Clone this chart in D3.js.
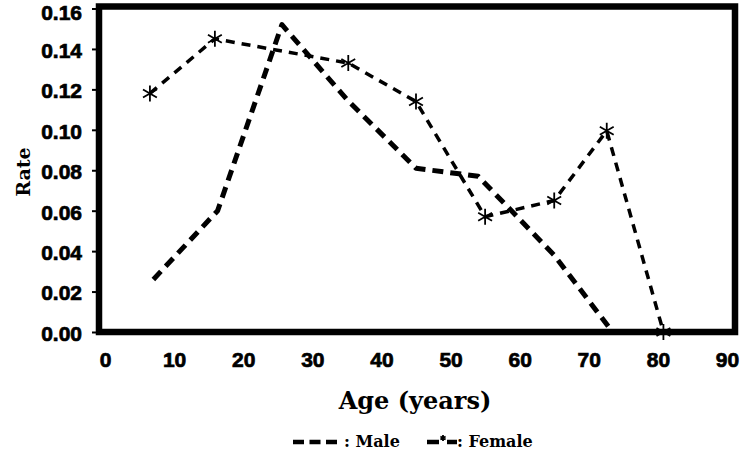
<!DOCTYPE html>
<html><head><meta charset="utf-8">
<script src="https://cdn.jsdelivr.net/npm/d3@7"></script>
<style>
body{margin:0;background:#fff;}
svg{display:block;}
</style></head>
<body><svg id="chart" width="740" height="452"></svg>
<script>
const xTicks = [0,10,20,30,40,50,60,70,80,90];
const yTicks = [0,0.02,0.04,0.06,0.08,0.10,0.12,0.14,0.16];
const maleAges = [7,16.3,25.6,35,45,54,65,73];
const maleRates = [0.026,0.060,0.152,0.115,0.081,0.077,0.038,0.002];
const femaleAges = [6.5,15.9,35.2,45,55,65,72.6,80.8];
const femaleRates = [0.118,0.145,0.133,0.114,0.057,0.065,0.0995,0.0];
const seriesNames = ["Male","Female"];

const svg = d3.select("#chart");
const x = d3.scaleLinear().domain([0,90]).range([105,727]);
const y = d3.scaleLinear().domain([0,0.16]).range([332,8.5]);

// frame
svg.append("rect").attr("x",99).attr("y",6.5).attr("width",636).attr("height",325.5)
  .attr("fill","none").attr("stroke","#000").attr("stroke-width",6.5);

const tickFont = "'Liberation Sans', Arial, sans-serif";
// y axis
const ya = svg.append("g").attr("transform","translate(99,0)")
  .call(d3.axisLeft(y).tickValues(yTicks).tickFormat(d3.format(".2f")).tickSize(7).tickPadding(10));
ya.select(".domain").remove();
ya.selectAll(".tick line").attr("stroke","#000").attr("stroke-width",2);
ya.selectAll(".tick text").attr("font-family",tickFont).attr("dy","0.4em")
  .attr("font-weight","bold").attr("font-size","21px").attr("fill","#000")
  .attr("stroke","#000").attr("stroke-width",0.7)
  .attr("y", d => d === 0.16 ? 3 : 0);

// x axis
const xa = svg.append("g").attr("transform","translate(0,332)")
  .call(d3.axisBottom(x).tickValues(xTicks).tickSize(0).tickPadding(20));
xa.select(".domain").remove();
xa.selectAll(".tick text").attr("font-family",tickFont)
  .attr("font-weight","bold").attr("font-size","21px").attr("fill","#000")
  .attr("stroke","#000").attr("stroke-width",0.7);

const serif = "'DejaVu Serif', 'Liberation Serif', serif";
// axis titles
svg.append("text").attr("transform","translate(23,172) rotate(-90)")
  .attr("text-anchor","middle").attr("dy","0.35em").attr("font-family",serif)
  .attr("font-weight","bold").attr("font-size","19px").attr("fill","#000").text("Rate");
svg.append("text").attr("x",415).attr("y",409)
  .attr("text-anchor","middle").attr("font-family",serif)
  .attr("font-weight","bold").attr("font-size","24px").attr("fill","#000").text("Age (years)");

// lines
const line = d3.line().x(d=>x(d[0])).y(d=>y(d[1]));
const maleData = maleAges.map((a,i)=>[a,maleRates[i]]);
const femaleData = femaleAges.map((a,i)=>[a,femaleRates[i]]);

svg.append("path").datum(maleData).attr("d",line).attr("fill","none")
  .attr("stroke","#000").attr("stroke-width",5).attr("stroke-dasharray","11,7")
  .attr("stroke-linejoin","round");
svg.append("path").datum(femaleData).attr("d",line).attr("fill","none")
  .attr("stroke","#000").attr("stroke-width",3.5).attr("stroke-dasharray","9,7");

function asterisk(g, cx, cy, r){
  const p = d3.path();
  p.moveTo(cx, cy-r); p.lineTo(cx, cy+r);
  const dx = r*Math.cos(Math.PI/6), dy = r*Math.sin(Math.PI/6);
  p.moveTo(cx-dx, cy-dy); p.lineTo(cx+dx, cy+dy);
  p.moveTo(cx-dx, cy+dy); p.lineTo(cx+dx, cy-dy);
  g.append("path").attr("d",p.toString()).attr("stroke","#000").attr("stroke-width",1.8).attr("fill","none");
}
const mk = svg.append("g");
femaleData.forEach(d=>asterisk(mk, x(d[0]), y(d[1]), 8));

// legend
const lg = svg.append("g");
lg.append("line").attr("x1",293).attr("x2",337).attr("y1",442).attr("y2",442)
  .attr("stroke","#000").attr("stroke-width",4.5).attr("stroke-dasharray","11,5.5");
lg.append("text").attr("x",344).attr("y",447).attr("font-family",serif)
  .attr("font-weight","bold").attr("font-size","16px").attr("fill","#000").text(": " + seriesNames[0]);
lg.append("line").attr("x1",427).attr("x2",439).attr("y1",442).attr("y2",442)
  .attr("stroke","#000").attr("stroke-width",4.5);
lg.append("line").attr("x1",447).attr("x2",457).attr("y1",442).attr("y2",442)
  .attr("stroke","#000").attr("stroke-width",4.5);
asterisk(lg, 443, 438, 3);
lg.append("text").attr("x",457).attr("y",447).attr("font-family",serif)
  .attr("font-weight","bold").attr("font-size","16px").attr("fill","#000").text(": " + seriesNames[1]);
</script></body></html>
